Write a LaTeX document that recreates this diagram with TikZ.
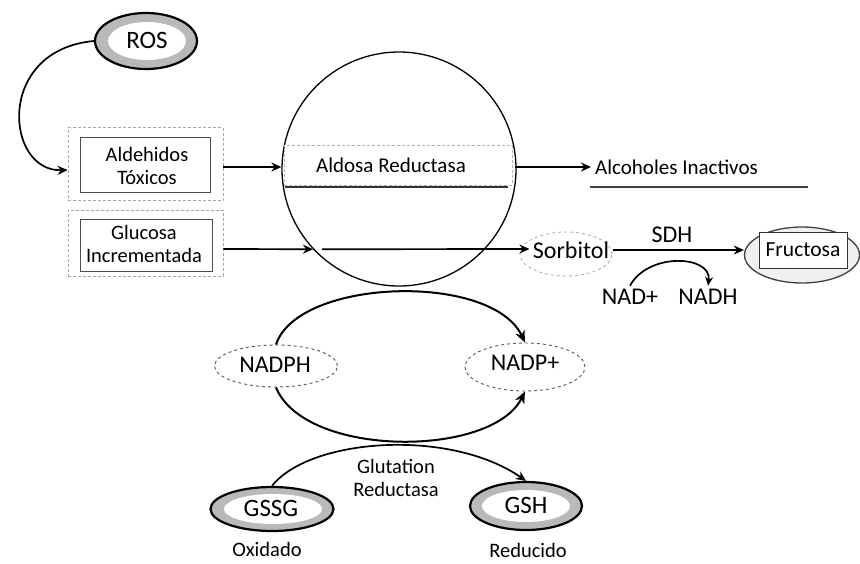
\documentclass[tikz,border=0pt]{standalone}
\usepackage{fontspec}
\setmainfont{Carlito}
\usetikzlibrary{shapes.geometric,arrows.meta}
\begin{document}
\begin{tikzpicture}[x=1pt,y=-1pt,
  arr/.style={line width=1.7pt,-{Stealth[length=10pt,width=9pt]}},
  darkring/.style={ellipse, draw=black, line width=2.2pt, fill=gray!55},
  whitein/.style={ellipse, fill=white, inner sep=0pt},
  dashell/.style={ellipse, draw=gray!70!black, dashed, line width=0.9pt},
  outbox/.style={draw=gray!70, densely dashed, line width=0.8pt},
  inbox/.style={draw=gray!60!black, line width=0.7pt},
  lbl/.style={font=\fontsize{20.5}{23}\selectfont, align=center, text=black},
  big/.style={font=\fontsize{24}{27}\selectfont, text=black}
]
\useasboundingbox (0,0) rectangle (860,563);
\fill[white] (0,0) rectangle (860,563);

% ROS
\node[darkring, minimum width=102pt, minimum height=56pt] (rosE) at (146,41) {};
\node[whitein, minimum width=78pt, minimum height=38pt] (rosI) at (147,41) {};
\node[big, font=\fontsize{25}{28}\selectfont] (ros) at (147,40) {ROS};

% Aldehidos box
\node[outbox, minimum width=155pt, minimum height=73pt] (ald) at (145.5,164) {};
\node[inbox, minimum width=130pt, minimum height=55pt] (aldI) at (145.5,165) {};
\node[lbl, inner sep=1pt] (aldT) at (147,166) {Aldehidos\\Tóxicos};

% Glucosa box
\node[outbox, minimum width=155pt, minimum height=66pt] (glu) at (145.5,243) {};
\node[inbox, minimum width=132pt, minimum height=52pt] (gluI) at (146,245) {};
\node[lbl, inner sep=1pt] (gluT) at (144,244) {Glucosa\\Incrementada};

% ROS -> Aldehidos
\draw[arr] (rosE.west) .. controls (-5,50) and (5,172) .. (ald.west |- 0,170);

% big circle
\node[circle, draw=black, line width=1.3pt, minimum size=234pt] (ar) at (399,169) {};
\node[draw=gray!60, densely dashed, line width=0.5pt, minimum width=228pt, minimum height=40pt] (arB) at (398,165) {};
\node[lbl, font=\fontsize{21}{24}\selectfont] (arT) at (391,165) {Aldosa Reductasa};
\draw[line width=2pt, black!80] (285,187) -- (508,187);

% Aldehidos -> circle
\draw[arr] (ald.east |- 0,167) -- (ar.west |- 0,167);

% circle -> Alcoholes
\node[lbl, font=\fontsize{21}{24}\selectfont, anchor=west, inner sep=1pt] (alc) at (594,167) {Alcoholes Inactivos};
\draw[arr] (515,167) -- ([xshift=-3pt]alc.west);
\draw[line width=2pt, black!75] (590,187) -- (808,187);

% Sorbitol
\node[dashell, draw=gray!60, minimum width=92pt, minimum height=44pt] (sorE) at (566,254) {};
\node[big] (sor) at (571,250) {Sorbitol};

% Glucosa -> circle -> Sorbitol
\draw[arr] (glu.east |- 0,249) -- (ar.223);
\draw[arr] ([xshift=9pt]ar.223) -- (sor.west |- 0,249);

% Fructosa
\node[ellipse, draw=black!75, line width=1.3pt, fill=gray!12, minimum width=115pt, minimum height=56pt] (fruE) at (802,255) {};
\node[draw=black!80, line width=0.8pt, fill=white, minimum width=88pt, minimum height=36pt, inner sep=1pt, font=\fontsize{21.5}{24}\selectfont] (fru) at (803,250) {Fructosa};

% SDH
\draw[arr] (sor.east |- 0,250) -- (fruE.west |- 0,250);
\node[big] (sdh) at (672,235) {SDH};
\node[big] (nad) at (630,297) {NAD+};
\node[big] (nadh) at (708,297) {NADH};
\draw[line width=1.7pt, -{Stealth[length=9pt,width=8pt]}] (nad.north) .. controls (648,252) and (712,255) .. (nadh.north);

% NADPH / NADP+
\node[dashell, minimum width=123pt, minimum height=42pt] (nadphE) at (276,366) {};
\node[big] (nadph) at (275,365) {NADPH};
\node[dashell, minimum width=120pt, minimum height=48pt] (nadpE) at (525,367) {};
\node[big] (nadp) at (525,363) {NADP+};

\draw[line width=2pt, -{Stealth[length=12pt,width=10pt]}] (nadphE.north) .. controls (298,278) and (492,272) .. (nadpE.north);
\draw[line width=2pt, -{Stealth[length=12pt,width=10pt]}] (nadphE.south) .. controls (305,458) and (492,458) .. (nadpE.south);

% GSSG / GSH
\node[darkring, minimum width=123pt, minimum height=44pt] (gssgE) at (272,509) {};
\node[whitein, minimum width=98pt, minimum height=30pt] (gssgI) at (273,509) {};
\node[big, font=\fontsize{25}{28}\selectfont] (gssg) at (271,508) {GSSG};
\node[darkring, minimum width=112pt, minimum height=48pt] (gshE) at (526,506) {};
\node[whitein, minimum width=88pt, minimum height=32pt] (gshI) at (526,506) {};
\node[big, font=\fontsize{25}{28}\selectfont] (gsh) at (526,505) {GSH};

\draw[line width=1.7pt, -{Stealth[length=10pt,width=9pt]}] (gssgE.north) .. controls (310,438) and (450,428) .. (gshE.north);

\node[lbl] (glut) at (396,478) {Glutation\\Reductasa};
\node[lbl] (oxi) at (267,549) {Oxidado};
\node[lbl] (red) at (528,550) {Reducido};
\end{tikzpicture}
\end{document}
